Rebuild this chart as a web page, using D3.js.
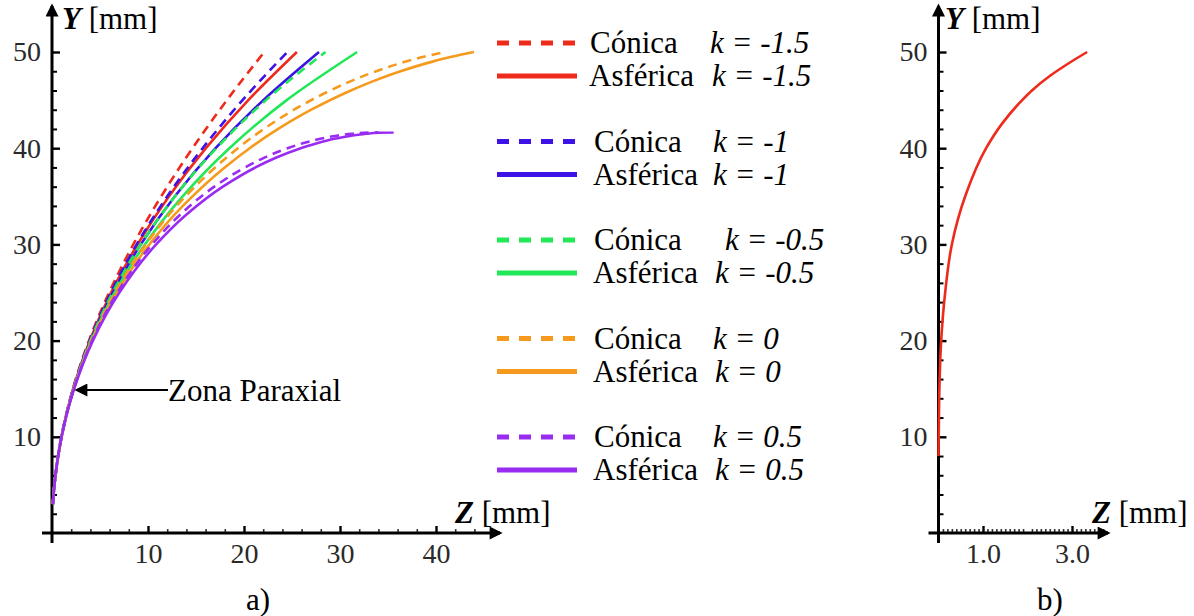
<!DOCTYPE html>
<html lang="es">
<head>
<meta charset="UTF-8" />
<title>Perfil cónico vs asférico</title>
<script src="https://d3js.org/d3.v7.min.js"></script>
<style>
  body { margin: 0; background: #fff; }
  text { font-family: "Liberation Serif", "Times New Roman", "DejaVu Serif", serif; }
  .tick text { font-size: 28px; fill: #2a2a2a; }
  .lbl { font-size: 31px; fill: #000; }
</style>
</head>
<body>
<svg width="1194" height="616"></svg>
<script>
const yHeights = [3, 5, 10, 15, 20, 25, 30, 35, 40, 45, 50];
const yHeightsSphere = [3, 5, 10, 15, 20, 25, 30, 34, 38, 40, 42, 44, 46, 47, 48, 49, 49.5, 50];
const yHeightsOblate = [3, 5, 10, 15, 20, 25, 30, 33, 36, 38, 39, 40, 40.5, 41, 41.3, 41.5, 41.6, 41.64];

// panel a) sag values
const conicaKm15 = [0.09, 0.25, 0.98, 2.18, 3.85, 5.95, 8.47, 11.38, 14.64, 18.22, 22.11];
const asfericaKm15 = [0.09, 0.25, 0.98, 2.21, 3.94, 6.16, 8.91, 12.19, 16.03, 20.45, 25.51];
const conicaKm1 = [0.09, 0.25, 0.98, 2.21, 3.92, 6.13, 8.82, 12.01, 15.69, 19.85, 24.51];
const asfericaKm1 = [0.09, 0.25, 0.99, 2.23, 4.01, 6.33, 9.25, 12.8, 17.04, 22.02, 27.81];
const conicaKm05 = [0.09, 0.25, 0.99, 2.23, 4.0, 6.32, 9.24, 12.81, 17.12, 22.29, 28.49];
const asfericaKm05 = [0.09, 0.25, 0.99, 2.26, 4.08, 6.53, 9.67, 13.61, 18.48, 24.45, 31.79];
const conicaK0 = [0.09, 0.25, 0.99, 2.26, 4.09, 6.55, 9.76, 12.99, 16.99, 19.36, 22.07, 25.21, 28.98, 31.2, 33.77, 36.86, 38.72, 40.95];
const asfericaK0 = [0.09, 0.25, 1.0, 2.28, 4.16, 6.74, 10.15, 13.63, 17.99, 20.59, 23.56, 27.01, 31.13, 33.54, 36.31, 39.63, 41.6, 43.95];
const conicaK05 = [0.09, 0.25, 1.0, 2.28, 4.18, 6.81, 10.42, 13.26, 16.91, 20.1, 22.08, 24.55, 26.09, 28.06, 29.66, 31.2, 32.49, 34.0];
const asfericaK05 = [0.09, 0.25, 1.0, 2.31, 4.26, 7.02, 10.85, 13.89, 17.8, 21.2, 23.31, 25.9, 27.52, 29.55, 31.19, 32.77, 34.07, 35.59];

const kLabels = ['-1.5', '-1', '-0.5', '0', '0.5'];

// panel b) difference curve
const diffY = [8, 10, 15, 20, 25, 30, 35, 40, 42.5, 45, 46, 47.5, 48.75, 50];
const diffZ = [0, 0.005, 0.02, 0.06, 0.15, 0.3, 0.6, 1.07, 1.42, 1.88, 2.1, 2.5, 2.9, 3.34];

const yTicks = [10, 20, 30, 40, 50];
const xTicksA = [10, 20, 30, 40];
const xTicksB = [1, 3];

const series = [
  { k: kLabels[0], color: '#ee2a1c', ys: yHeights, conica: conicaKm15, asferica: asfericaKm15 },
  { k: kLabels[1], color: '#3c12e6', ys: yHeights, conica: conicaKm1, asferica: asfericaKm1 },
  { k: kLabels[2], color: '#22e858', ys: yHeights, conica: conicaKm05, asferica: asfericaKm05 },
  { k: kLabels[3], color: '#f59a1c', ys: yHeightsSphere, conica: conicaK0, asferica: asfericaK0 },
  { k: kLabels[4], color: '#9a2cf2', ys: yHeightsOblate, conica: conicaK05, asferica: asfericaK05 },
];

const svg = d3.select('svg');

const y = d3.scaleLinear().domain([0, 50]).range([533, 52]);
const xa = d3.scaleLinear().domain([0, 10]).range([52, 148]);
const xb = d3.scaleLinear().domain([0, 1]).range([938.5, 983]);

svg.append('defs').append('marker')
  .attr('id', 'arrow')
  .attr('viewBox', '0 0 10 10')
  .attr('refX', 8).attr('refY', 5)
  .attr('markerUnits', 'userSpaceOnUse')
  .attr('markerWidth', 17).attr('markerHeight', 13)
  .attr('orient', 'auto')
  .append('path').attr('d', 'M0,0L10,5L0,10z').attr('fill', '#000');

function drawAxes(x, minorX, majorX, xEnd, fmt) {
  const gx = svg.append('g').attr('transform', `translate(0,${y(0)})`);
  gx.call(d3.axisBottom(x).tickValues(minorX).tickSize(-4).tickFormat(''));
  gx.call((g) => g.select('.domain').remove());
  gx.selectAll('.tick line').attr('stroke', '#333').attr('stroke-width', 1.6);
  const gx2 = svg.append('g').attr('transform', `translate(0,${y(0)})`);
  gx2.call(d3.axisBottom(x).tickValues(majorX).tickSize(-7).tickPadding(10).tickFormat(fmt));
  gx2.call((g) => g.select('.domain').remove());
  gx2.selectAll('.tick line').attr('stroke', '#000').attr('stroke-width', 2.4);

  const gy = svg.append('g').attr('transform', `translate(${x(0)},0)`);
  gy.call(d3.axisLeft(y).tickValues(d3.range(2, 50, 2).filter((v) => v % 10)).tickSize(-5).tickFormat(''));
  gy.call((g) => g.select('.domain').remove());
  gy.selectAll('.tick line').attr('stroke', '#000').attr('stroke-width', 2);
  const gy2 = svg.append('g').attr('transform', `translate(${x(0)},0)`);
  gy2.call(d3.axisLeft(y).tickValues(yTicks).tickSize(-8).tickPadding(11));
  gy2.call((g) => g.select('.domain').remove());
  gy2.selectAll('.tick line').attr('stroke', '#000').attr('stroke-width', 2.4);

  svg.append('line')
    .attr('x1', x(0) - 10).attr('x2', xEnd)
    .attr('y1', y(0)).attr('y2', y(0))
    .attr('stroke', '#000').attr('stroke-width', 3)
    .attr('marker-end', 'url(#arrow)');
  svg.append('line')
    .attr('x1', x(0)).attr('x2', x(0))
    .attr('y1', y(0) + 10).attr('y2', 6)
    .attr('stroke', '#000').attr('stroke-width', 3)
    .attr('marker-end', 'url(#arrow)');
}

function axisTitle(px, py, letter) {
  const t = svg.append('text').attr('class', 'lbl').attr('x', px).attr('y', py);
  t.append('tspan').attr('font-weight', 'bold').attr('font-style', 'italic').text(letter);
  t.append('tspan').text(' [mm]');
}

// ---- panel a)
drawAxes(xa, d3.range(2, 46, 2).filter((v) => v % 10), xTicksA, 500, d3.format('d'));
axisTitle(62, 29, 'Y');
axisTitle(455, 523, 'Z');

const lineA = (ys) =>
  d3.line().x((d) => xa(d)).y((d, i) => y(ys[i])).curve(d3.curveMonotoneY);

series.forEach((s) => {
  svg.append('path')
    .attr('d', lineA(s.ys)(s.asferica))
    .attr('fill', 'none').attr('stroke', s.color).attr('stroke-width', 2.6);
  svg.append('path')
    .attr('d', lineA(s.ys)(s.conica))
    .attr('fill', 'none').attr('stroke', s.color).attr('stroke-width', 2.6)
    .attr('stroke-dasharray', '9,6');
});

// Zona Paraxial annotation
svg.append('line')
  .attr('x1', 168).attr('x2', 77).attr('y1', 390).attr('y2', 390)
  .attr('stroke', '#000').attr('stroke-width', 2)
  .attr('marker-end', 'url(#arrow)');
svg.append('text').attr('class', 'lbl').attr('x', 168).attr('y', 401).text('Zona Paraxial');

// legend
const rowGap = 98.5;
const nameX = [590, 594, 594, 594, 594];
const kConX = [710, 713, 725, 713, 713];
const kAsfX = [712, 713, 715, 715, 715];
series.forEach((s, i) => {
  const cy = 43 + i * rowGap;
  [0, 1].forEach((j) => {
    const ly = cy + j * 33;
    svg.append('line')
      .attr('x1', 497).attr('x2', 577).attr('y1', ly).attr('y2', ly)
      .attr('stroke', s.color).attr('stroke-width', 5)
      .attr('stroke-dasharray', j === 0 ? '12,10' : null);
    svg.append('text').attr('class', 'lbl')
      .attr('x', j === 0 ? nameX[i] : nameX[i] - 1).attr('y', ly + 10)
      .text(j === 0 ? 'Cónica' : 'Asférica');
    svg.append('text').attr('class', 'lbl')
      .attr('x', j === 0 ? kConX[i] : kAsfX[i]).attr('y', ly + 10)
      .attr('font-style', 'italic')
      .text(`k = ${s.k}`);
  });
});

svg.append('text').attr('class', 'lbl').attr('x', 258).attr('y', 610)
  .attr('text-anchor', 'middle').text('a)');

// ---- panel b)
drawAxes(xb, d3.range(0.1, 3.75, 0.1).filter((v) => Math.abs(v - Math.round(v)) > 0.01), xTicksB, 1108, d3.format('.1f'));
axisTitle(945, 29, 'Y');
axisTitle(1092, 523, 'Z');

svg.append('path')
  .attr('d', d3.line().x((d) => xb(d)).y((d, i) => y(diffY[i])).curve(d3.curveMonotoneY)(diffZ))
  .attr('fill', 'none').attr('stroke', '#ee2a1c').attr('stroke-width', 2.6);

svg.append('text').attr('class', 'lbl').attr('x', 1050).attr('y', 610)
  .attr('text-anchor', 'middle').text('b)');
</script>
</body>
</html>
